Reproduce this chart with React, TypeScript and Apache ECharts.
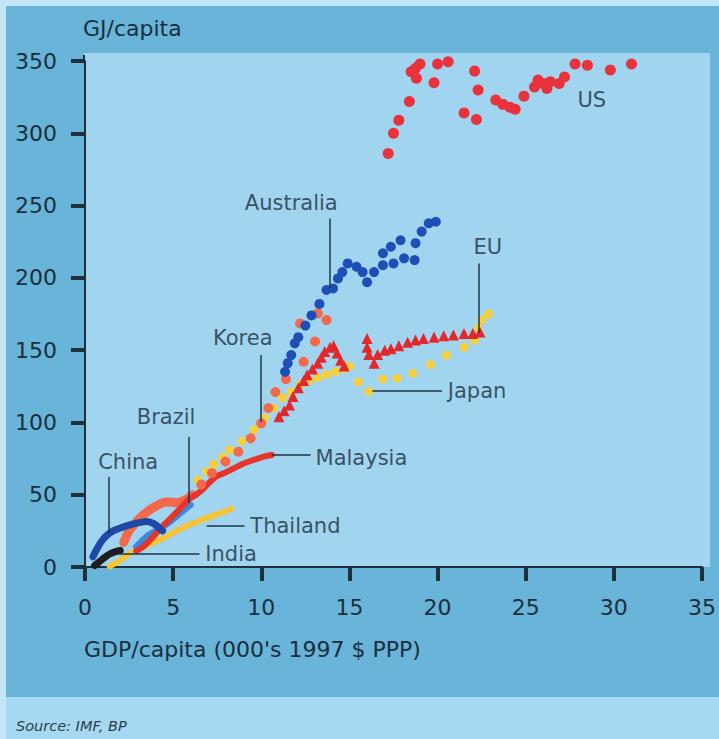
import React, { useEffect, useRef } from "react";
import * as echarts from "echarts";

// ---- data (x: GDP/capita, 000's 1997 $ PPP; y: GJ/capita) ----
const usPoints: number[][] = [
  [17.2, 286], [17.5, 300], [17.8, 309], [18.4, 322], [18.5, 342.5], [18.75, 345],
  [18.8, 338], [19.0, 348], [19.8, 335], [20.0, 348], [20.6, 349.5], [22.1, 343],
  [22.3, 330], [21.5, 314], [22.2, 309.6], [23.3, 323], [23.7, 320], [24.1, 318],
  [24.4, 316.7], [24.9, 325.7], [25.5, 332], [25.7, 336.8], [26.0, 334.5], [26.2, 331],
  [26.4, 335.6], [26.9, 334.5], [27.2, 339], [27.8, 348], [28.5, 347], [29.8, 343.7],
  [31.0, 348],
];

const australiaPoints: number[][] = [
  [11.35, 135], [11.5, 141], [11.7, 146.6], [11.9, 154.7], [12.1, 159], [12.5, 167],
  [12.85, 174], [13.3, 182], [13.7, 191.6], [14.07, 192.7], [14.35, 199.6], [14.6, 204],
  [14.9, 210], [15.4, 207.7], [15.75, 204], [16.0, 197], [16.4, 204], [16.9, 208.8],
  [16.9, 217], [17.35, 221.5], [17.5, 210], [17.9, 226], [18.1, 213.5], [18.7, 212.3],
  [18.75, 224], [19.1, 232], [19.5, 237.7], [19.9, 238.8],
];

const euPoints: number[][] = [
  [11.0, 104], [11.3, 108], [11.6, 112], [11.8, 118], [12.1, 124], [12.4, 129],
  [12.6, 133], [12.9, 137], [13.2, 141], [13.4, 145], [13.6, 149], [13.9, 152],
  [14.1, 153], [14.3, 148], [14.5, 143], [14.7, 139], [16.0, 158], [16.0, 152],
  [16.1, 147], [16.4, 141], [16.6, 147], [17.0, 150], [17.35, 151], [17.8, 153],
  [18.3, 155.5], [18.75, 157], [19.2, 158], [19.8, 159], [20.35, 160], [20.9, 160.5],
  [21.5, 161.5], [22.0, 161.5], [22.4, 162.5],
];

const japanPoints: number[][] = [
  [6.4, 60], [6.9, 66], [7.3, 71], [7.8, 76], [8.2, 81], [8.9, 87], [9.6, 95],
  [10.2, 103], [10.7, 110], [11.2, 117], [11.7, 121], [12.2, 126], [12.7, 129],
  [13.2, 131], [13.7, 133], [14.2, 135], [14.7, 137], [15.0, 139], [15.5, 128],
  [16.1, 121.5], [16.9, 130], [17.7, 130.5], [18.6, 134], [19.6, 140], [20.5, 146.5],
  [21.5, 152], [22.1, 157], [22.3, 165], [22.5, 171], [22.9, 175],
];

const koreaEarly: number[][] = [
  [2.2, 17], [2.5, 25], [2.9, 31], [3.4, 37], [4.0, 42], [4.6, 45], [5.2, 44.5],
  [5.7, 46.5], [6.1, 50],
];

const koreaPoints: number[][] = [
  [6.6, 57], [7.2, 65], [7.97, 73], [8.7, 79.7], [9.4, 89], [10.0, 99.4], [10.4, 110],
  [10.8, 121], [11.4, 130], [12.4, 142], [13.05, 156], [12.2, 168.5], [13.2, 175.4],
  [13.7, 170.8],
];

const malaysiaLine: number[][] = [
  [2.9, 11], [3.3, 14], [3.8, 20], [4.3, 27], [4.8, 33], [5.2, 38], [5.6, 43],
  [5.9, 47], [6.3, 50], [6.7, 54], [7.1, 59], [7.5, 63], [7.9, 65], [8.4, 68],
  [8.9, 71], [9.3, 73], [9.8, 75], [10.2, 76.5], [10.6, 77.5],
];

const chinaLine: number[][] = [
  [0.45, 7], [0.7, 13], [0.95, 18], [1.25, 22], [1.6, 25], [2.0, 27], [2.5, 29],
  [3.0, 30.5], [3.5, 31.5], [3.9, 30], [4.4, 25],
];

const brazilLine: number[][] = [
  [2.9, 14], [3.3, 19], [3.7, 23], [4.2, 26], [4.7, 30], [5.2, 35], [5.6, 39], [6.0, 43],
];

const indiaLine: number[][] = [
  [0.55, 1], [0.8, 3.5], [1.1, 6.5], [1.4, 9], [1.7, 10.5], [2.0, 11.5],
];

const thailandLine: number[][] = [
  [1.4, 0.5], [1.9, 4], [2.5, 9], [3.0, 12], [3.5, 15], [4.1, 18], [4.6, 21],
  [5.2, 25], [5.7, 28], [6.3, 31], [6.9, 34], [7.6, 37], [8.3, 40],
];

// annotation labels
const labelNames = ["US", "Australia", "EU", "Japan", "Korea", "Malaysia", "Brazil", "China", "Thailand", "India"];
const labelPos: number[][] = [
  [28.75, 323], [11.7, 252], [22.85, 221], [20.35, 121.7], [8.95, 158.5],
  [12.85, 75.4], [4.6, 103.7], [2.45, 72.6], [9.15, 28.2], [6.6, 8.8],
];
const labelAnchor = ["center", "center", "center", "left", "center", "left", "center", "center", "left", "left"];

// leader lines
const leaderLines: number[][][] = [
  [[13.9, 241], [13.9, 193]],
  [[22.34, 210], [22.34, 162]],
  [[16.3, 121.7], [20.25, 121.7]],
  [[9.96, 146.6], [9.96, 100.3]],
  [[10.6, 77.5], [12.8, 77.5]],
  [[5.9, 90], [5.9, 44.3]],
  [[1.35, 62.2], [1.35, 23.5]],
  [[6.9, 28.2], [9.05, 28.2]],
  [[1.8, 9.0], [6.5, 9.0]],
];

const xMin = 0, xMax = 35, xStep = 5;
const yMin = 0, yMax = 350, yStep = 50;

const TEXT = "#1a2e3d";
const FONT = "'DejaVu Sans', 'Open Sans', sans-serif";

export default function App() {
  const ref = useRef<HTMLDivElement>(null);

  useEffect(() => {
    document.body.style.margin = "0";
    const chart = echarts.init(ref.current!, null, { renderer: "svg" });

    const lineSeries = (name: string, data: number[][], color: string, width: number) => ({
      name,
      type: "line",
      data,
      showSymbol: false,
      symbol: "none",
      smooth: 0.3,
      lineStyle: { color, width, cap: "round", join: "round" },
      z: 3,
    });

    const dotSeries = (name: string, data: number[][], color: string, size: number, symbol = "circle") => ({
      name,
      type: "scatter",
      data,
      symbol,
      symbolSize: size,
      itemStyle: { color, opacity: 1 },
      z: 4,
    });

    chart.setOption({
      animation: false,
      backgroundColor: "#c3e5f8",
      textStyle: { fontFamily: FONT },
      grid: { left: 85, right: 12, top: 61, bottom: 172, containLabel: false },
      xAxis: {
        type: "value",
        min: xMin,
        max: xMax,
        interval: xStep,
        axisLine: { show: true, lineStyle: { color: "#1f2f3c", width: 2 } },
        axisTick: { show: true, length: 14, lineStyle: { color: "#1f2f3c", width: 4 } },
        axisLabel: { color: TEXT, fontSize: 22, margin: 29, fontFamily: FONT },
        splitLine: { show: false },
      },
      yAxis: {
        type: "value",
        min: yMin,
        max: yMax,
        interval: yStep,
        axisLine: { show: true, lineStyle: { color: "#1f2f3c", width: 2 } },
        axisTick: { show: true, length: 14, lineStyle: { color: "#1f2f3c", width: 4 } },
        axisLabel: { color: TEXT, fontSize: 22, margin: 28, fontFamily: FONT },
        splitLine: { show: false },
      },
      graphic: [
        { type: "rect", shape: { x: 6, y: 6, width: 713, height: 691 }, style: { fill: "#69b4d9" }, z: -10, silent: true },
        { type: "rect", shape: { x: 6, y: 697, width: 713, height: 42 }, style: { fill: "#a7d8f2" }, z: -10, silent: true },
        { type: "rect", shape: { x: 84, y: 53, width: 626, height: 514 }, style: { fill: "#a1d4ef" }, z: -9, silent: true },
        { type: "line", shape: { x1: 84, y1: 55, x2: 84, y2: 62 }, style: { stroke: "#1f2f3c", lineWidth: 2 }, z: 10, silent: true },
        { type: "text", x: 83, y: 28, style: { text: "GJ/capita", fill: TEXT, font: `22px ${FONT}`, verticalAlign: "middle", align: "left" }, z: 10 },
        { type: "text", x: 84, y: 649, style: { text: "GDP/capita (000's 1997 $ PPP)", fill: TEXT, font: `22px ${FONT}`, verticalAlign: "middle", align: "left" }, z: 10 },
        { type: "text", x: 16, y: 726, style: { text: "Source: IMF, BP", fill: "#2c3f4c", font: `italic 14.5px ${FONT}`, verticalAlign: "middle", align: "left" }, z: 10 },
      ],
      series: [
        lineSeries("Thailand", thailandLine, "#f6c43a", 6),
        lineSeries("India", indiaLine, "#1e1e22", 7),
        lineSeries("Korea early", koreaEarly, "#f3694c", 9),
        lineSeries("Brazil", brazilLine, "#3a88e0", 6),
        lineSeries("Malaysia", malaysiaLine, "#e6342c", 6),
        lineSeries("China", chinaLine, "#1d48a8", 7),
        dotSeries("Japan", japanPoints, "#f8cf3c", 9),
        dotSeries("EU", euPoints, "#e2282c", 11, "triangle"),
        dotSeries("Korea", koreaPoints, "#f26a4a", 10),
        dotSeries("Australia", australiaPoints, "#1e4fb6", 10),
        dotSeries("US", usPoints, "#e8333d", 11),
        {
          name: "leaders",
          type: "lines",
          coordinateSystem: "cartesian2d",
          polyline: false,
          silent: true,
          lineStyle: { color: "#1f3446", width: 1.5, opacity: 1, curveness: 0 },
          data: leaderLines.map((c) => ({ coords: c })),
          z: 6,
        },
        {
          name: "labels",
          type: "scatter",
          symbolSize: 0,
          silent: true,
          z: 7,
          data: labelNames.map((n, i) => ({
            name: n,
            value: labelPos[i],
            label: {
              show: true,
              formatter: "{b}",
              position: labelAnchor[i] === "left" ? "right" : "inside",
              distance: 4,
              color: TEXT,
              fontSize: 21,
              fontFamily: FONT,
            },
          })),
        },
      ],
    });

    return () => chart.dispose();
  }, []);

  return <div ref={ref} style={{ width: 719, height: 739 }} />;
}
